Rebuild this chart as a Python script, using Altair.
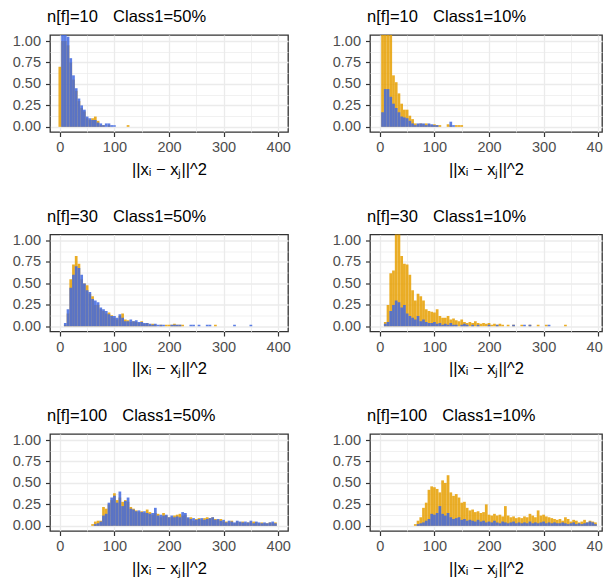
import altair as alt
import pandas as pd

FONT = "Liberation Sans, Arial, sans-serif"
ORANGE = "#E69F00"
BLUE = "#4169E1"
BIN = 5

x_ticks = [0, 50, 100, 150, 200, 250, 300, 350, 400]
y_ticks = [0, 0.125, 0.25, 0.375, 0.5, 0.625, 0.75, 0.875, 1.0]
x_title = "||x\u1d62 \u2212 x\u2c7c||^2"

titles = [
    ("10", "50%"), ("10", "10%"),
    ("30", "50%"), ("30", "10%"),
    ("100", "50%"), ("100", "10%"),
]

# heights per bin (bin width 5, first value = bin centred at the start value)
p1_orange_start = 0
p1_orange = [0.7, 1.0, 1.0, 0.95, 0.75, 0.55, 0.42, 0.3, 0.22, 0.18, 0.1, 0.08, 0.1, 0.12,
             0.07, 0.02, 0.02, 0, 0.02, 0, 0, 0, 0, 0, 0, 0.02]
p1_blue_start = 5
p1_blue = [1.1, 1.1, 1.05, 0.8, 0.6, 0.45, 0.33, 0.25, 0.2, 0.12, 0.1, 0.08, 0.08, 0.05,
           0.04, 0.02, 0.04, 0.04, 0.02, 0.02]

p2_orange_start = 5
p2_orange = [1.1, 1.1, 1.1, 1.1, 0.6, 0.52, 0.39, 0.27, 0.2, 0.2, 0.13, 0.09, 0.04, 0.03,
             0.04, 0.03, 0.04, 0.03, 0.02, 0.03, 0.02, 0.02, 0, 0, 0.03, 0.02, 0, 0.02,
             0.02, 0.02]
p2_blue_start = 5
p2_blue = [0.17, 0.44, 0.44, 0.35, 0.27, 0.22, 0.17, 0.12, 0.11, 0.1, 0.07, 0.04, 0.02,
           0.04, 0.04, 0.04, 0.02, 0.04, 0.03, 0.02, 0.02, 0, 0, 0, 0, 0.06, 0.02]

p3_orange_start = 10
p3_orange = [0.02, 0.15, 0.55, 0.72, 0.82, 0.73, 0.55, 0.5, 0.48, 0.38,
             0.35, 0.25, 0.25, 0.2, 0.18, 0.15, 0.16, 0.13, 0.1, 0.08,
             0.12, 0.15, 0.08, 0.07, 0.05, 0.06, 0.05, 0.04, 0.06, 0.03,
             0.04, 0.02, 0.03, 0.02, 0, 0.02, 0, 0.02, 0.02, 0.02,
             0.03, 0.02, 0.02, 0.02, 0, 0, 0, 0, 0, 0,
             0, 0, 0, 0, 0, 0.02]
p3_blue_start = 10
p3_blue = [0.04, 0.2, 0.45, 0.6, 0.7, 0.68, 0.6, 0.5, 0.42, 0.4,
           0.32, 0.3, 0.28, 0.22, 0.2, 0.18, 0.14, 0.12, 0.12, 0.1,
           0.14, 0.1, 0.06, 0.06, 0.08, 0.06, 0.07, 0.05, 0.05, 0.04,
           0.04, 0.03, 0.02, 0.03, 0.02, 0.02, 0.02, 0, 0, 0.02,
           0.02, 0.02, 0.02, 0, 0, 0, 0.02, 0.02, 0, 0.02,
           0, 0, 0.02, 0.02, 0, 0, 0, 0, 0, 0,
           0, 0, 0.02, 0, 0, 0, 0, 0, 0.02]

p4_orange_start = 10
p4_orange = [0.05, 0.25, 0.62, 0.65, 1.1, 1.1, 0.82, 0.73, 0.72, 0.6,
             0.42, 0.3, 0.38, 0.35, 0.3, 0.2, 0.18, 0.17, 0.16, 0.2,
             0.12, 0.1, 0.1, 0.12, 0.08, 0.09, 0.07, 0.06, 0.08, 0.05,
             0.04, 0.05, 0.04, 0.06, 0.04, 0.03, 0.04, 0.03, 0.04, 0.02,
             0.03, 0.02, 0.03, 0.02, 0, 0.02, 0, 0.02, 0, 0,
             0.02, 0, 0, 0.02, 0, 0, 0.02, 0, 0, 0.02,
             0, 0, 0, 0, 0, 0, 0.02]
p4_blue_start = 10
p4_blue = [0.03, 0.05, 0.18, 0.25, 0.3, 0.28, 0.22, 0.25, 0.15, 0.12,
           0.1, 0.08, 0.12, 0.06, 0.08, 0.05, 0.04, 0.04, 0.05, 0.03,
           0.04, 0.02, 0.03, 0.02, 0.04, 0.02, 0.02, 0, 0.02, 0.03,
           0.02, 0, 0.02, 0, 0.02, 0, 0, 0, 0.02, 0,
           0, 0.02, 0, 0, 0, 0, 0, 0.02, 0, 0,
           0, 0.02, 0, 0.02, 0, 0, 0, 0, 0, 0, 0.02]

p5_orange_start = 60
p5_orange = [0.02, 0.05, 0.06, 0.06, 0.22, 0.2, 0.25, 0.3, 0.38, 0.3, 0.33, 0.28, 0.3,
             0.28, 0.22, 0.2, 0.18, 0.16, 0.17, 0.15, 0.19, 0.16, 0.13, 0.15, 0.14, 0.1,
             0.15, 0.12, 0.1, 0.1, 0.12, 0.13, 0.14, 0.12, 0.13, 0.09, 0.1, 0.06, 0.08,
             0.09, 0.07, 0.09, 0.1, 0.09, 0.1, 0.08, 0.07, 0.08, 0.05, 0.05, 0.04, 0.06,
             0.03, 0.05, 0.04, 0.05, 0.03, 0.04, 0.04, 0.05, 0.04, 0.03, 0.04, 0.03, 0.03,
             0.04, 0.03, 0.04]
p5_blue_start = 65
p5_blue = [0.02, 0.03, 0.05, 0.12, 0.14, 0.27, 0.33, 0.35, 0.27, 0.4, 0.23, 0.29, 0.33,
           0.2, 0.19, 0.17, 0.18, 0.16, 0.17, 0.15, 0.14, 0.15, 0.21, 0.12, 0.13, 0.12,
           0.13, 0.1, 0.12, 0.1, 0.11, 0.1, 0.16, 0.15, 0.1, 0.08, 0.09, 0.07, 0.08, 0.09,
           0.07, 0.08, 0.09, 0.1, 0.07, 0.08, 0.06, 0.07, 0.04, 0.06, 0.05, 0.04, 0.06,
           0.05, 0.04, 0.05, 0.04, 0.06, 0.03, 0.05, 0.04, 0.03, 0.04, 0.03, 0.04, 0.05,
           0.03]

p6_orange_start = 65
p6_orange = [0.02, 0.06, 0.1, 0.21, 0.27, 0.42, 0.46, 0.45, 0.43, 0.39, 0.53, 0.5, 0.59,
             0.39, 0.35, 0.37, 0.33, 0.27, 0.28, 0.21, 0.18, 0.19, 0.16, 0.17, 0.15, 0.16,
             0.25, 0.13, 0.12, 0.14, 0.12, 0.13, 0.11, 0.23, 0.12, 0.1, 0.11, 0.09, 0.1,
             0.09, 0.11, 0.1, 0.14, 0.12, 0.1, 0.18, 0.12, 0.13, 0.11, 0.1, 0.09, 0.08,
             0.07, 0.08, 0.06, 0.1, 0.08, 0.05, 0.07, 0.06, 0.04, 0.05, 0.07, 0.04, 0.06,
             0.05, 0.04]
p6_blue_start = 70
p6_blue = [0.02, 0.03, 0.04, 0.06, 0.08, 0.14, 0.13, 0.15, 0.23, 0.14, 0.12, 0.15, 0.1,
           0.08, 0.09, 0.1, 0.07, 0.08, 0.06, 0.07, 0.06, 0.05, 0.07, 0.05, 0.06, 0.04,
           0.05, 0.04, 0.06, 0.04, 0.03, 0.05, 0.04, 0.03, 0.04, 0.05, 0.03, 0.04, 0.03,
           0.04, 0.03, 0.05, 0.03, 0.04, 0.03, 0.04, 0.05, 0.03, 0.04, 0.03, 0.04, 0.03,
           0.03, 0.04, 0.03, 0.02, 0.03, 0.04, 0.02, 0.03, 0.02, 0.03, 0.04, 0.05, 0.04,
           0.02]

panels = [
    (p1_orange_start, p1_orange, p1_blue_start, p1_blue),
    (p2_orange_start, p2_orange, p2_blue_start, p2_blue),
    (p3_orange_start, p3_orange, p3_blue_start, p3_blue),
    (p4_orange_start, p4_orange, p4_blue_start, p4_blue),
    (p5_orange_start, p5_orange, p5_blue_start, p5_blue),
    (p6_orange_start, p6_orange, p6_blue_start, p6_blue),
]


def to_df(start, vals):
    rows = []
    for i, h in enumerate(vals):
        if h > 0:
            c = start + BIN * i
            rows.append({"x0": c - BIN / 2, "x1": c + BIN / 2, "h": h, "base": 0})
    return pd.DataFrame(rows)


minor_x = "datum.value % 100 !== 0"
minor_y = "(datum.value * 4) % 1 !== 0"

x_axis = alt.Axis(
    values=x_ticks,
    labelExpr="datum.value % 100 === 0 ? datum.label : ''",
    grid=True, gridColor="#EBEBEB",
    gridWidth={"condition": {"test": minor_x, "value": 0.7}, "value": 1.3},
    tickOpacity={"condition": {"test": minor_x, "value": 0}, "value": 1},
    tickColor="#333333", tickSize=4.5, tickWidth=1.2, domain=False,
    labelFont=FONT, labelFontSize=14.5, labelColor="#4D4D4D", labelPadding=4,
    labelFlush=False, labelOverlap=False,
    titleFont=FONT, titleFontSize=16.5, titleColor="black", titleFontWeight="normal",
    titlePadding=7, minExtent=22, maxExtent=22,
)
y_axis = alt.Axis(
    values=y_ticks, format=".2f",
    labelExpr="(datum.value * 4) % 1 === 0 ? datum.label : ''",
    grid=True, gridColor="#EBEBEB",
    gridWidth={"condition": {"test": minor_y, "value": 0.7}, "value": 1.3},
    tickOpacity={"condition": {"test": minor_y, "value": 0}, "value": 1},
    tickColor="#333333", tickSize=4.5, tickWidth=1.2, domain=False,
    labelFont=FONT, labelFontSize=14.5, labelColor="#4D4D4D", labelPadding=5,
    labelFlush=False, labelOverlap=False,
    minExtent=41, maxExtent=41, title=None,
)

ys = alt.Scale(domain=[-0.06, 1.07], nice=False, zero=False)
# left column shows the full x range; right column is cut at the page edge
x_domains = [[-18, 418], [-18, 407]]
widths = [238, 232]


def make_panel(spec, ttl, col):
    os_, ov, bs, bv = spec
    xs = alt.Scale(domain=x_domains[col], nice=False, zero=False)
    layers = []
    for start, vals, colr in [(os_, ov, ORANGE), (bs, bv, BLUE)]:
        layers.append(
            alt.Chart(to_df(start, vals)).mark_rect(color=colr, opacity=0.85, clip=True).encode(
                x=alt.X("x0:Q", scale=xs, axis=x_axis, title=x_title),
                x2="x1:Q",
                y=alt.Y("h:Q", scale=ys, axis=y_axis),
                y2="base:Q",
            )
        )
    nf, cl = ttl
    text = f"n[f]={nf}\u00a0\u00a0\u00a0\u200aClass1={cl}"
    return alt.layer(*layers).properties(
        width=widths[col], height=97,
        title=alt.TitleParams(text=text, anchor="start", frame="group", font=FONT,
                              fontSize=16.5, fontWeight="normal", color="black",
                              baseline="alphabetic", offset=-5.5, dx=-3),
    )


charts = [make_panel(p, t, i % 2) for i, (p, t) in enumerate(zip(panels, titles))]
chart = alt.concat(*charts, columns=2, spacing=alt.RowColnumber(row=102.5, column=82),
                   bounds="flush").properties(
    padding={"left": 0, "top": 0, "right": -8, "bottom": 0}
).configure_view(stroke="#333333", strokeWidth=1.3)

chart.save("out.html", embed_options={"renderer": "svg", "actions": False})
